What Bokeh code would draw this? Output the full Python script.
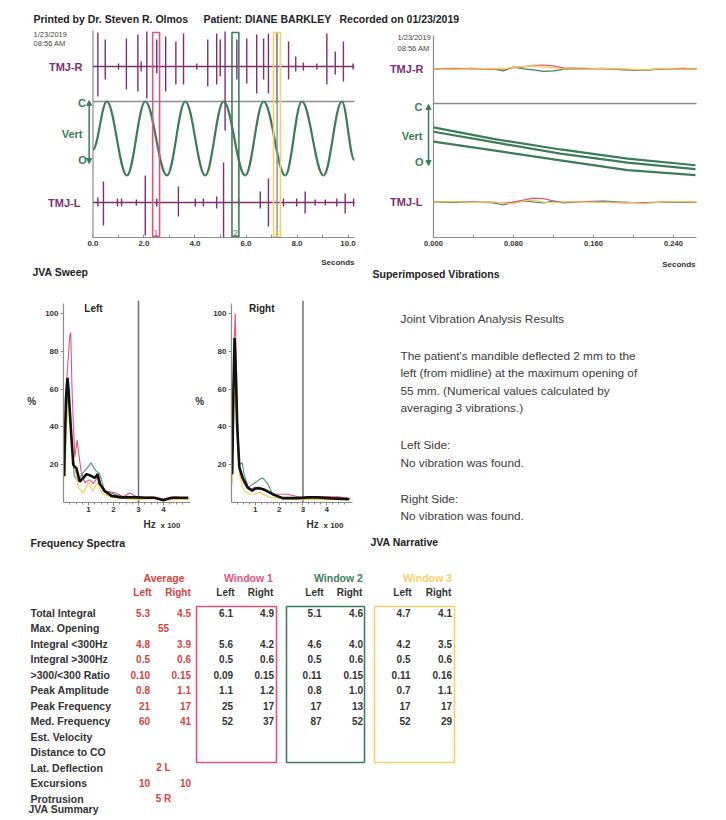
from bokeh.plotting import figure
from bokeh.layouts import column, row
from bokeh.models import Range1d, FixedTicker, PrintfTickFormatter, Arrow, NormalHead
from bokeh.core.properties import value
from bokeh.embed import file_html
from bokeh.resources import INLINE

# ======================= DATA =======================
header_doctor = "Printed by Dr. Steven R. Olmos"
header_patient = "Patient: DIANE BARKLEY"
header_recorded = "Recorded on 01/23/2019"
rec_date = "1/23/2019"
rec_time = "08:56 AM"

# JVA sweep (seconds)
sweep_ticks = [0, 2, 4, 6, 8, 10]
sweep_minor = [1, 3, 5, 7, 9]
sweep_end = 10.25
tmjr_t = [0.19, 0.48, 1.0, 1.31, 1.76, 1.89, 2.11, 2.5, 2.85, 3.25, 3.55, 4.07, 4.5, 4.85, 4.99,
          5.18, 5.64, 6.03, 6.42, 6.69, 6.88, 7.21, 7.67, 7.95, 8.25, 8.78, 9.17, 9.5, 9.82, 10.2]
tmjr_up = [34, 27, 3, 28, 32, 5, 35, 27, 30, 25, 33, 3, 27, 33, 27,
           35, 27, 28, 32, 28, 33, 33, 25, 10, 4, 3, 33, 15, 25, 3]
tmjr_dn = [30, 13, 3, 23, 25, 5, 32, 7, 25, 18, 18, 3, 20, 18, 10,
           64, 13, 17, 27, 13, 27, 37, 13, 5, 4, 3, 18, 8, 15, 3]
tmjl_t = [0.19, 0.41, 0.96, 1.12, 1.7, 2.05, 2.5, 3.35, 4.01, 4.33, 4.85, 5.12, 5.71, 6.56, 6.88,
          7.47, 7.99, 8.32, 8.71, 9.11, 9.56, 9.89, 10.22]
tmjl_up = [5, 21, 4, 4, 3, 27, 4, 16, 4, 4, 6, 40, 4, 11, 24, 4, 4, 11, 3, 3, 4, 9, 4]
tmjl_dn = [4, 23, 4, 4, 3, 33, 4, 14, 4, 4, 6, 49, 4, 6, 24, 4, 4, 11, 3, 3, 4, 11, 4]
# vertical motion extremes (normalised: +1 = closed, -1 = open)
vert_t = [0.0, 0.54, 1.33, 2.05, 2.9, 3.62, 4.4, 5.12, 5.97, 6.69, 7.54, 8.19, 9.04, 9.76, 10.25]
vert_v = [-0.3, 1, -1, 1, -1, 1, -1, 1, -1, 1, -1, 1, -1, 1, -0.58]
win_start = [2.34, 5.45, 7.08]
win_len = 0.27
win_labels = ["1", "2", "3"]
win3_marker = 7.22

# Superimposed vibrations (seconds)
sup_ticks = [0.0, 0.08, 0.16, 0.24]
sup_minor = [0.04, 0.12, 0.20]
sup_end = 0.263
vib_t = [0, 0.02, 0.04, 0.06, 0.07, 0.08, 0.09, 0.10, 0.11, 0.12, 0.13, 0.15, 0.17, 0.19, 0.21, 0.23, 0.25, 0.263]
vib_r_red = [0, 0.5, 0, -0.5, 0, 1, 2, 3.5, 4, 3, 1, 0.5, 0, -0.5, -1, 0, 0.5, -0.5]
vib_r_green = [0, 0, 0.5, 0, -2, 2, 0, -1, -2.5, -2, -0.5, 0, 0.5, -1, -1.5, 0, 0, 0]
vib_r_yellow = [0, -0.5, 0, 0.5, 0, 1.5, 2.5, 3, 2, 1, 0, -0.5, 0.5, 0, -1, 0.5, -0.5, 0]
vib_l_red = [0, 0.5, 0, 0, -1, 0, 2, 4, 3.5, 1, 0, 0.5, 0, -1, -0.5, 0, 0, -0.5]
vib_l_green = [0, -0.5, 0, -1, -3, 0, 1, 0, -1, 1, -1, 0.5, 1, 0, -1, 0, -0.5, 0]
vib_l_yellow = [0, 0.5, -0.5, 0, -1, -2, 1, 2, 0, -1, 0.5, 0, -0.5, 0, -1.5, 0, 0.5, 0]
vert_sup_t = [0, 0.06, 0.127, 0.194, 0.262]
vert_sup_1 = [111.7, 100, 89.3, 80, 73.3]
vert_sup_2 = [107.3, 96.7, 85, 76, 69.3]
vert_sup_3 = [97.3, 88.3, 78.3, 68.3, 63.3]

# Frequency spectra (Hz x 100, %)
spec_xticks = [1, 2, 3, 4]
spec_xminor = [0.25, 0.5, 0.75, 1.25, 1.5, 1.75, 2.25, 2.5, 2.75, 3.25, 3.5, 3.75, 4.25, 4.5, 4.75]
spec_yticks = [20, 40, 60, 80, 100]
spec_cutoff = 3
L_avg_f = [0.03, 0.05, 0.1, 0.16, 0.2, 0.29, 0.39, 0.45, 0.52, 0.65, 0.79, 0.92, 1.12, 1.25, 1.36, 1.45,
           1.65, 1.92, 2.32, 2.99, 3.3, 3.65, 3.99, 4.32, 4.99]
L_avg_v = [14, 30, 55, 66, 60, 40, 20, 19, 18, 11, 13, 15, 14, 13, 15, 10, 6, 3.5, 2.7, 2.7, 2.5, 2.5, 1.2, 2.5, 2.5]
L_w1_f = [0.04, 0.1, 0.18, 0.25, 0.29, 0.34, 0.45, 0.55, 0.62, 0.7, 0.85, 1.05, 1.2, 1.39, 1.5, 1.7, 2.1, 2.4,
          2.65, 3.0, 3.5, 4.0, 4.5, 4.99]
L_w1_v = [30, 60, 75, 88, 90, 60, 24, 33, 25, 17, 10.6, 12, 10, 14, 9, 6, 5, 3, 5, 2.5, 3, 2, 3, 2]
L_w2_f = [0.02, 0.1, 0.18, 0.24, 0.32, 0.43, 0.59, 0.75, 0.86, 1.0, 1.1, 1.28, 1.45, 1.65, 1.92, 2.3, 3.0,
          3.5, 4.0, 4.99]
L_w2_v = [14, 40, 61, 50, 33, 14, 11.5, 15, 17, 19, 21, 17, 15, 6, 5, 3, 2.5, 2.5, 1.5, 2.5]
L_w3_f = [0.05, 0.12, 0.2, 0.3, 0.45, 0.59, 0.79, 0.99, 1.16, 1.36, 1.52, 1.92, 2.5, 3.0, 3.5, 4.0, 4.99]
L_w3_v = [13, 40, 54, 35, 18.6, 8, 5, 10.6, 6, 10.6, 5, 2.7, 2, 1.5, 2, 1.5, 1.5]
R_avg_f = [0.03, 0.08, 0.13, 0.18, 0.24, 0.33, 0.47, 0.67, 0.87, 1.0, 1.15, 1.33, 1.53, 1.73, 2.13, 2.8,
           3.2, 3.6, 4.2, 4.93]
R_avg_v = [15, 60, 87, 70, 40, 18.6, 13, 8, 6.2, 7.4, 7.5, 7, 5.8, 4.4, 2.3, 2.3, 2.7, 2.7, 2.2, 1.8]
R_w1_f = [0.03, 0.1, 0.16, 0.22, 0.29, 0.4, 0.55, 0.8, 1.0, 1.2, 1.5, 1.8, 2.33, 3.0, 3.5, 4.0, 4.5, 4.99]
R_w1_v = [20, 80, 100, 60, 22, 14, 9.7, 7, 8, 8, 6, 4.5, 4.4, 2.5, 3, 3, 3, 2]
R_w2_f = [0.03, 0.1, 0.15, 0.22, 0.33, 0.45, 0.53, 0.7, 1.0, 1.15, 1.31, 1.45, 1.53, 1.73, 2.2, 3.0, 4.0, 4.99]
R_w2_v = [15, 70, 80, 50, 20, 21, 15, 8, 10.6, 12, 13, 11, 9.7, 4.4, 2.5, 2.5, 2.5, 2]
R_w3_f = [0.03, 0.1, 0.15, 0.22, 0.33, 0.53, 0.8, 1.0, 1.2, 1.4, 1.6, 2.3, 3.0, 4.0, 4.99]
R_w3_v = [10, 50, 63, 40, 15, 6, 4.4, 4.5, 5.3, 4, 2.7, 1.8, 1.5, 1.5, 1.5]

# Narrative
lat_deflection_mm = 2
max_opening_mm = 55
n_vibrations = 3

# Summary table
row_labels = ["Total Integral", "Max. Opening", "Integral <300Hz", "Integral >300Hz", ">300/<300 Ratio",
              "Peak Amplitude", "Peak Frequency", "Med. Frequency", "Est. Velocity", "Distance to CO",
              "Lat. Deflection", "Excursions", "Protrusion"]
avg_left = ["5.3", "", "4.8", "0.5", "0.10", "0.8", "21", "60", "", "", "", "10", ""]
avg_right = ["4.5", "", "3.9", "0.6", "0.15", "1.1", "17", "41", "", "", "", "10", ""]
avg_center = ["", "55", "", "", "", "", "", "", "", "", "2 L", "", "5 R"]
w1_left = ["6.1", "", "5.6", "0.5", "0.09", "1.1", "25", "52"]
w1_right = ["4.9", "", "4.2", "0.6", "0.15", "1.2", "17", "37"]
w2_left = ["5.1", "", "4.6", "0.5", "0.11", "0.8", "17", "87"]
w2_right = ["4.6", "", "4.0", "0.6", "0.15", "1.0", "13", "52"]
w3_left = ["4.7", "", "4.2", "0.5", "0.11", "0.7", "17", "52"]
w3_right = ["4.1", "", "3.5", "0.6", "0.16", "1.1", "17", "29"]

# ======================= STYLE =======================
FONT = "Liberation Sans"
PURPLE = "#7d2f6f"
GREEN = "#3c7c58"
W1C = "#e0557f"
W2C = "#3f7d60"
W3C = "#efd268"
AVGC = "#d8433f"
TXT = "#333333"
GRAY = "#8c8c8c"
W_COLORS = [W1C, W2C, W3C]


def make_fig(w, h, xr, yr, mb=(0, 0, 0, 0), **kw):
    p = figure(width=w, height=h, x_range=xr, y_range=yr, output_backend="svg",
               toolbar_location=None, min_border_left=mb[0], min_border_right=mb[1],
               min_border_top=mb[2], min_border_bottom=mb[3], **kw)
    p.outline_line_color = None
    p.grid.visible = False
    p.background_fill_color = "white"
    p.border_fill_color = "white"
    return p


def txt(p, x, y, s, size, color=TXT, bold=True, align="left", baseline="middle"):
    p.text(x=[x], y=[y], text=[s], text_font=value(FONT), text_font_size=size,
           text_font_style="bold" if bold else "normal", text_color=color,
           text_align=align, text_baseline=baseline)


def style_axis(ax, size="8px"):
    ax.major_label_text_font = FONT
    ax.major_label_text_font_style = "bold"
    ax.major_label_text_font_size = size
    ax.major_label_text_color = TXT
    ax.axis_line_color = GRAY
    ax.axis_line_width = 1.2
    ax.major_tick_line_color = GRAY
    ax.minor_tick_line_color = GRAY


# ======================= HEADER =======================
hdr = make_fig(726, 28, Range1d(0, 726), Range1d(28, 0), x_axis_location=None, y_axis_location=None)
txt(hdr, 33, 18, header_doctor, "10.5px", color="#222222")
txt(hdr, 203, 18, header_patient, "10.5px", color="#222222")
txt(hdr, 339, 18, header_recorded, "10.5px", color="#222222")

# ======================= JVA SWEEP =======================
sw = make_fig(365, 225, Range1d(-3.627, 10.686), Range1d(0, 209), mb=(0, 0, 0, 16),
              x_axis_location="below", y_axis_location=None)
R_BASE, L_BASE, C_LEVEL, V_MID, V_AMP = 171, 35, 136, 99, 37
ax = sw.xaxis[0]
ax.ticker = FixedTicker(ticks=sweep_ticks, minor_ticks=sweep_minor)
ax.formatter = PrintfTickFormatter(format="%.1f")
ax.bounds = (0, sweep_end)
ax.major_tick_in, ax.major_tick_out = 3, 0
ax.minor_tick_in, ax.minor_tick_out = 3, 0
ax.major_label_standoff = 3
style_axis(ax)

sw.line([0, 0], [0, 207], line_color=GRAY, line_width=1.2)
sw.line([0, sweep_end], [C_LEVEL, C_LEVEL], line_color=GRAY, line_width=1.5)
sw.line([0, sweep_end], [R_BASE, R_BASE], line_color=PURPLE, line_width=1.6)
sw.segment(x0=tmjr_t, x1=tmjr_t, y0=[R_BASE - d for d in tmjr_dn], y1=[R_BASE + u for u in tmjr_up],
           line_color=PURPLE, line_width=1.4)
sw.line([0, sweep_end], [L_BASE, L_BASE], line_color=PURPLE, line_width=1.6)
sw.segment(x0=tmjl_t, x1=tmjl_t, y0=[L_BASE - d for d in tmjl_dn], y1=[L_BASE + u for u in tmjl_up],
           line_color=PURPLE, line_width=1.4)
K = 0.3642
bx0, bx1 = vert_t[:-1], vert_t[1:]
by0 = [V_MID + V_AMP * v for v in vert_v[:-1]]
by1 = [V_MID + V_AMP * v for v in vert_v[1:]]
sw.bezier(x0=bx0, y0=by0, x1=bx1, y1=by1,
          cx0=[a + K * (b - a) for a, b in zip(bx0, bx1)], cy0=by0,
          cx1=[b - K * (b - a) for a, b in zip(bx0, bx1)], cy1=by1,
          line_color=GREEN, line_width=2.2)
sw.line([win3_marker, win3_marker], [0.6, 205], line_color="#9a9a9a", line_width=1.6)
sw.quad(left=win_start, right=[s + win_len for s in win_start], bottom=0.8, top=205,
        fill_color=None, line_color=W_COLORS, line_width=1.6)
sw.text(x=[s + win_len / 2 for s in win_start], y=[2] * 3, text=win_labels, text_color=W_COLORS,
        text_font=value(FONT), text_font_size="9px", text_align="center", text_baseline="bottom")
txt(sw, -2.33, 203, rec_date, "7.5px", color="#444444", bold=False)
txt(sw, -2.33, 194, rec_time, "7.5px", color="#444444", bold=False)
txt(sw, -0.41, R_BASE, "TMJ-R", "11px", color=PURPLE, align="right")
txt(sw, -0.28, 135, "C", "11px", color=GREEN, align="right")
txt(sw, -0.41, 104, "Vert", "11px", color=GREEN, align="right")
txt(sw, -0.24, 78, "O", "11px", color=GREEN, align="right")
txt(sw, -0.49, L_BASE, "TMJ-L", "11px", color=PURPLE, align="right")
sw.add_layout(Arrow(start=NormalHead(size=5, fill_color=GREEN, line_color=GREEN),
                    end=NormalHead(size=5, fill_color=GREEN, line_color=GREEN),
                    x_start=-0.15, y_start=74, x_end=-0.15, y_end=137,
                    line_color=GREEN, line_width=1.5))

# ======================= SUPERIMPOSED =======================
sp = make_fig(361, 225, Range1d(-0.068, 0.293), Range1d(0, 212), mb=(0, 0, 0, 13),
              x_axis_location="below", y_axis_location=None)
SR_BASE, SL_BASE, SC_LEVEL = 171, 36, 136
ax = sp.xaxis[0]
ax.ticker = FixedTicker(ticks=sup_ticks, minor_ticks=sup_minor)
ax.formatter = PrintfTickFormatter(format="%.3f")
ax.bounds = (0, sup_end)
ax.major_tick_in, ax.major_tick_out = 3, 0
ax.minor_tick_in, ax.minor_tick_out = 3, 0
ax.major_label_standoff = 3
style_axis(ax, "7.5px")
sp.line([0, 0], [0, 205], line_color=GRAY, line_width=1.2)
sp.line([0, sup_end], [SC_LEVEL, SC_LEVEL], line_color=GRAY, line_width=1.5)
for vals, col in [(vib_r_green, "#3f7d60"), (vib_r_red, "#e0557f"), (vib_r_yellow, "#f0cf4a")]:
    sp.line(vib_t, [SR_BASE + v for v in vals], line_color=col, line_width=1.2)
for vals, col in [(vib_l_green, "#3f7d60"), (vib_l_red, "#e0557f"), (vib_l_yellow, "#f0cf4a")]:
    sp.line(vib_t, [SL_BASE + v for v in vals], line_color=col, line_width=1.2)
for vals in [vert_sup_1, vert_sup_2, vert_sup_3]:
    sp.line(vert_sup_t, vals, line_color=GREEN, line_width=2.2)
txt(sp, -0.036, 203, rec_date, "7.5px", color="#444444", bold=False)
txt(sp, -0.036, 192, rec_time, "7.5px", color="#444444", bold=False)
txt(sp, -0.010, SR_BASE, "TMJ-R", "11px", color=PURPLE, align="right")
txt(sp, -0.011, 132, "C", "11px", color=GREEN, align="right")
txt(sp, -0.011, 103, "Vert", "11px", color=GREEN, align="right")
txt(sp, -0.010, 77, "O", "11px", color=GREEN, align="right")
txt(sp, -0.011, SL_BASE, "TMJ-L", "11px", color=PURPLE, align="right")
sp.add_layout(Arrow(start=NormalHead(size=5, fill_color=GREEN, line_color=GREEN),
                    end=NormalHead(size=5, fill_color=GREEN, line_color=GREEN),
                    x_start=-0.005, y_start=73, x_end=-0.005, y_end=135,
                    line_color=GREEN, line_width=1.5))

# ======================= TEXT ROW 1 =======================
t1 = make_fig(726, 37, Range1d(0, 726), Range1d(290, 253), x_axis_location=None, y_axis_location=None)
txt(t1, 354, 262, "Seconds", "8px", align="right")
txt(t1, 32, 271, "JVA Sweep", "10.5px", color="#222222")
txt(t1, 695, 264, "Seconds", "8px", align="right")
txt(t1, 372, 273, "Superimposed Vibrations", "10.5px", color="#222222")


# ======================= SPECTRA =======================
def spectrum(w, mbl, mbr, title, title_f, series):
    p = make_fig(w, 227, Range1d(0, 5.08), Range1d(0, 106.9), mb=(mbl, mbr, 10, 15),
                 x_axis_location="below", y_axis_location="left")
    xa = p.xaxis[0]
    xa.ticker = FixedTicker(ticks=spec_xticks, minor_ticks=spec_xminor)
    xa.major_tick_in, xa.major_tick_out = 0, 3
    xa.minor_tick_in, xa.minor_tick_out = 0, 2
    xa.major_label_standoff = 1
    style_axis(xa)
    ya = p.yaxis[0]
    ya.ticker = FixedTicker(ticks=spec_yticks)
    ya.major_tick_in, ya.major_tick_out = 0, 3
    ya.minor_tick_line_color = None
    ya.major_label_standoff = 2
    ya.bounds = (0, 105.5)
    style_axis(ya)
    ya.axis_label = "%"
    ya.axis_label_orientation = "horizontal"
    ya.axis_label_text_font = FONT
    ya.axis_label_text_font_style = "bold"
    ya.axis_label_text_font_size = "10px"
    ya.axis_label_text_color = TXT
    ya.axis_label_standoff = 6
    p.line([spec_cutoff, spec_cutoff], [0, 106.9], line_color="#707070", line_width=1.5)
    cols = ["#e0557f", "#4f9276", "#f0cf4a"]
    for (f, v), c in zip(series[1:], cols):
        p.line(f, v, line_color=c, line_width=1.1)
    p.line(series[0][0], series[0][1], line_color="#111111", line_width=2.6)
    txt(p, title_f, 102.8, title, "10px", color="#222222", align="center")
    return p


specL = spectrum(192, 63, 2, "Left", 1.2,
                 [(L_avg_f, L_avg_v), (L_w1_f, L_w1_v), (L_w2_f, L_w2_v), (L_w3_f, L_w3_v)])
specR = spectrum(168, 33, 8, "Right", 1.27,
                 [(R_avg_f, R_avg_v), (R_w1_f, R_w1_v), (R_w2_f, R_w2_v), (R_w3_f, R_w3_v)])

t2 = make_fig(360, 33, Range1d(0, 360), Range1d(550, 517), x_axis_location=None, y_axis_location=None)
for hx in (143, 306):
    txt(t2, hx, 524, "Hz", "10px")
    txt(t2, hx + 17, 524.5, "x 100", "8px")
txt(t2, 30, 542, "Frequency Spectra", "10.5px", color="#222222")

# ======================= NARRATIVE =======================
nar = make_fig(366, 260, Range1d(360, 726), Range1d(550, 290), x_axis_location=None, y_axis_location=None)
nar_lines = [
    ("Joint Vibration Analysis Results", 318),
    ("The patient's mandible deflected  %d mm to the" % lat_deflection_mm, 355),
    ("left (from midline) at the maximum opening of", 372.5),
    ("%d mm.  (Numerical values calculated by" % max_opening_mm, 390),
    ("averaging %d vibrations.)" % n_vibrations, 407.5),
    ("Left Side:", 444),
    ("No vibration was found.", 462),
    ("Right Side:", 498),
    ("No vibration was found.", 515.5),
]
nar.text(x=[400] * len(nar_lines), y=[yy for _, yy in nar_lines], text=[s for s, _ in nar_lines],
         text_font=value(FONT), text_font_size="11.8px", text_color="#3a3a3a",
         text_align="left", text_baseline="middle")
txt(nar, 370, 541, "JVA Narrative", "10.5px", color="#222222")

# ======================= TABLE =======================
tb = make_fig(726, 270, Range1d(0, 726), Range1d(820, 550), x_axis_location=None, y_axis_location=None)
ROW_Y0, ROW_DY = 612.3, 15.5
ry = [ROW_Y0 + i * ROW_DY for i in range(len(row_labels))]
tb.text(x=[30] * len(row_labels), y=ry, text=row_labels, text_font=value(FONT), text_font_size="10.5px",
        text_font_style="bold", text_color=TXT, text_align="left", text_baseline="middle")
txt(tb, 28, 808.3, "JVA Summary", "10.5px")
# Average
txt(tb, 163.5, 577, "Average", "10.5px", color=AVGC, align="center")
txt(tb, 142, 592, "Left", "10px", color=AVGC, align="center")
txt(tb, 177.5, 592, "Right", "10px", color=AVGC, align="center")


def col_text(xv, vals, align, color):
    idx = [i for i, v in enumerate(vals) if v]
    tb.text(x=[xv] * len(idx), y=[ry[i] for i in idx], text=[vals[i] for i in idx],
            text_font=value(FONT), text_font_size="10px", text_font_style="bold",
            text_color=color, text_align=align, text_baseline="middle")


col_text(149.5, avg_left, "right", AVGC)
col_text(190.5, avg_right, "right", AVGC)
col_text(163, avg_center, "center", AVGC)
win_cols = [
    (w1_left, w1_right, 248, 225, 260, 232.5, 273.5, 196, 276),
    (w2_left, w2_right, 338, 314, 349, 321, 362.5, 286, 364),
    (w3_left, w3_right, 427, 402, 438, 410, 451.5, 374, 454),
]
for k, (lv, rv, tc, hl, hr, xl, xr_, bl, br) in enumerate(win_cols):
    txt(tb, tc, 577, "Window %d" % (k + 1), "10.5px", color=W_COLORS[k], align="center")
    txt(tb, hl, 592, "Left", "10px", align="center")
    txt(tb, hr, 592, "Right", "10px", align="center")
    col_text(xl, lv, "right", TXT)
    col_text(xr_, rv, "right", TXT)
    tb.quad(left=[bl], right=[br], top=[606], bottom=[762], fill_color=None,
            line_color=W_COLORS[k], line_width=1.6)

layout = column(
    hdr,
    row(sw, sp),
    t1,
    row(column(row(specL, specR), t2), nar),
    tb,
)

open("out.html", "w").write(file_html(layout, INLINE))
